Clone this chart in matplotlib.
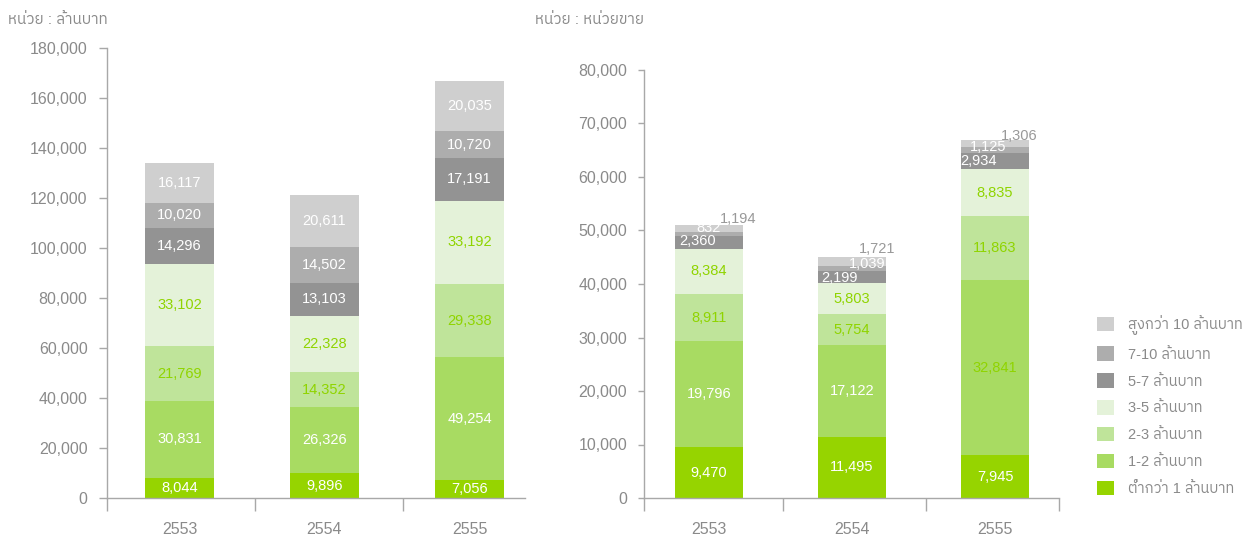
import matplotlib
matplotlib.use("Agg")
import numpy as np
import matplotlib.pyplot as plt
from matplotlib.patches import Patch

plt.rcParams['font.family'] = ['Liberation Sans', 'IBM Plex Sans Thai', 'Noto Sans Thai', 'DejaVu Sans']

# --- data ---
years = ['2553', '2554', '2555']
series_names = ['ต่ำกว่า 1 ล้านบาท', '1-2 ล้านบาท', '2-3 ล้านบาท', '3-5 ล้านบาท',
                '5-7 ล้านบาท', '7-10 ล้านบาท', 'สูงกว่า 10 ล้านบาท']

# value (million baht), bottom to top
value_lt1 = [8044, 9896, 7056]
value_1_2 = [30831, 26326, 49254]
value_2_3 = [21769, 14352, 29338]
value_3_5 = [33102, 22328, 33192]
value_5_7 = [14296, 13103, 17191]
value_7_10 = [10020, 14502, 10720]
value_gt10 = [16117, 20611, 20035]

# units sold, bottom to top
units_lt1 = [9470, 11495, 7945]
units_1_2 = [19796, 17122, 32841]
units_2_3 = [8911, 5754, 11863]
units_3_5 = [8384, 5803, 8835]
units_5_7 = [2360, 2199, 2934]
units_7_10 = [832, 1039, 1125]
units_gt10 = [1194, 1721, 1306]

value_ticks = [0, 20000, 40000, 60000, 80000, 100000, 120000, 140000, 160000, 180000]
units_ticks = [0, 10000, 20000, 30000, 40000, 50000, 60000, 70000, 80000]

# --- style ---
colors = ['#96d400', '#a8db62', '#bfe49a', '#e4f2d9', '#939393', '#adadad', '#cfcfcf']
WHITE = '#ffffff'
GREEN = '#8fd400'
GREY = '#999999'
AX_COLOR = '#a8a8a8'
TXT_COLOR = '#8a8a8a'

value_label_colors = [[WHITE] * 3, [WHITE] * 3, [GREEN] * 3, [GREEN] * 3,
                      [WHITE] * 3, [WHITE] * 3, [WHITE] * 3]
units_label_colors = [[WHITE] * 3, [WHITE, WHITE, GREEN], [GREEN] * 3, [GREEN] * 3,
                      [WHITE] * 3, [WHITE] * 3, [GREY] * 3]
# pixel offsets for the crowded labels on the units chart (series 4..6)
units_label_dx = {4: [-12, -13, -17], 5: [-1, 15, -7], 6: [29, 25, 24]}
units_label_dy = {4: [2, -1, 0], 5: [6, 5, 3], 6: [10, 12, 8]}

fig = plt.figure(figsize=(12.59, 5.4), dpi=100)


def style_axes(ax, ticks, xlim, minor, ylen, ypad):
    ax.set_ylim(0, ticks[-1])
    ax.set_xlim(*xlim)
    ax.set_yticks(ticks)
    ax.set_yticklabels([f"{t:,}" for t in ticks])
    ax.set_xticks(range(len(years)))
    ax.set_xticklabels(years)
    ax.set_xticks(minor, minor=True)
    for s in ['top', 'right']:
        ax.spines[s].set_visible(False)
    for s in ['left', 'bottom']:
        ax.spines[s].set_color(AX_COLOR)
        ax.spines[s].set_linewidth(1.0)
    ax.tick_params(axis='y', direction='out', length=ylen, width=1, color=AX_COLOR,
                   labelcolor=TXT_COLOR, labelsize=11.5, pad=ypad)
    ax.tick_params(axis='x', which='major', length=0, pad=17,
                   labelcolor=TXT_COLOR, labelsize=11.5)
    ax.tick_params(axis='x', which='minor', direction='out', length=9, width=1, color=AX_COLOR)


def draw_stack(ax, stack, width, label_colors, dx=None, dy=None):
    x = np.arange(len(years))
    bottom = np.zeros(len(years))
    for i, vals in enumerate(stack):
        vals = np.array(vals, dtype=float)
        ax.bar(x, vals, width, bottom=bottom, color=colors[i], linewidth=0,
               label=series_names[i])
        for j in range(len(years)):
            ox = dx[i][j] if dx and i in dx else 0
            oy = dy[i][j] if dy and i in dy else 0
            ax.annotate(f"{int(vals[j]):,}", (x[j], bottom[j] + vals[j] / 2),
                        xytext=(ox * 0.72, oy * 0.72), textcoords='offset points',
                        ha='center', va='center', fontsize=10.5,
                        color=label_colors[i][j])
        bottom += vals


# left chart: value
ax1 = fig.add_axes([107 / 1259, 42 / 540, 418 / 1259, 450 / 540])
draw_stack(ax1, [value_lt1, value_1_2, value_2_3, value_3_5, value_5_7, value_7_10, value_gt10],
           0.48, value_label_colors)
style_axes(ax1, value_ticks, (-0.5, 2.383), [-0.5, 0.52, 1.54], 6, 8)

# right chart: units
ax2 = fig.add_axes([644 / 1259, 42 / 540, 415 / 1259, 428 / 540])
draw_stack(ax2, [units_lt1, units_1_2, units_2_3, units_3_5, units_5_7, units_7_10, units_gt10],
           0.47, units_label_colors, units_label_dx, units_label_dy)
style_axes(ax2, units_ticks, (-0.455, 2.447), [-0.455, 0.52, 1.52, 2.447], 4, 8)

fig.text(8 / 1259, 1 - 20 / 540, 'หน่วย : ล้านบาท', fontsize=11, color=TXT_COLOR, va='center')
fig.text(535 / 1259, 1 - 20 / 540, 'หน่วย : หน่วยขาย', fontsize=11, color=TXT_COLOR, va='center')

# legend, top item = highest band
leg_handles = [Patch(facecolor=colors[i], edgecolor='none') for i in range(len(series_names))][::-1]
fig.legend(leg_handles, series_names[::-1], loc='upper left',
           bbox_to_anchor=(1091 / 1259, 1 - 309 / 540), frameon=False,
           fontsize=10.5, labelcolor=TXT_COLOR, handlelength=1.15, handleheight=1.15,
           handletextpad=1.0, labelspacing=0.8, borderaxespad=0)

fig.savefig("out.png", dpi=100)
